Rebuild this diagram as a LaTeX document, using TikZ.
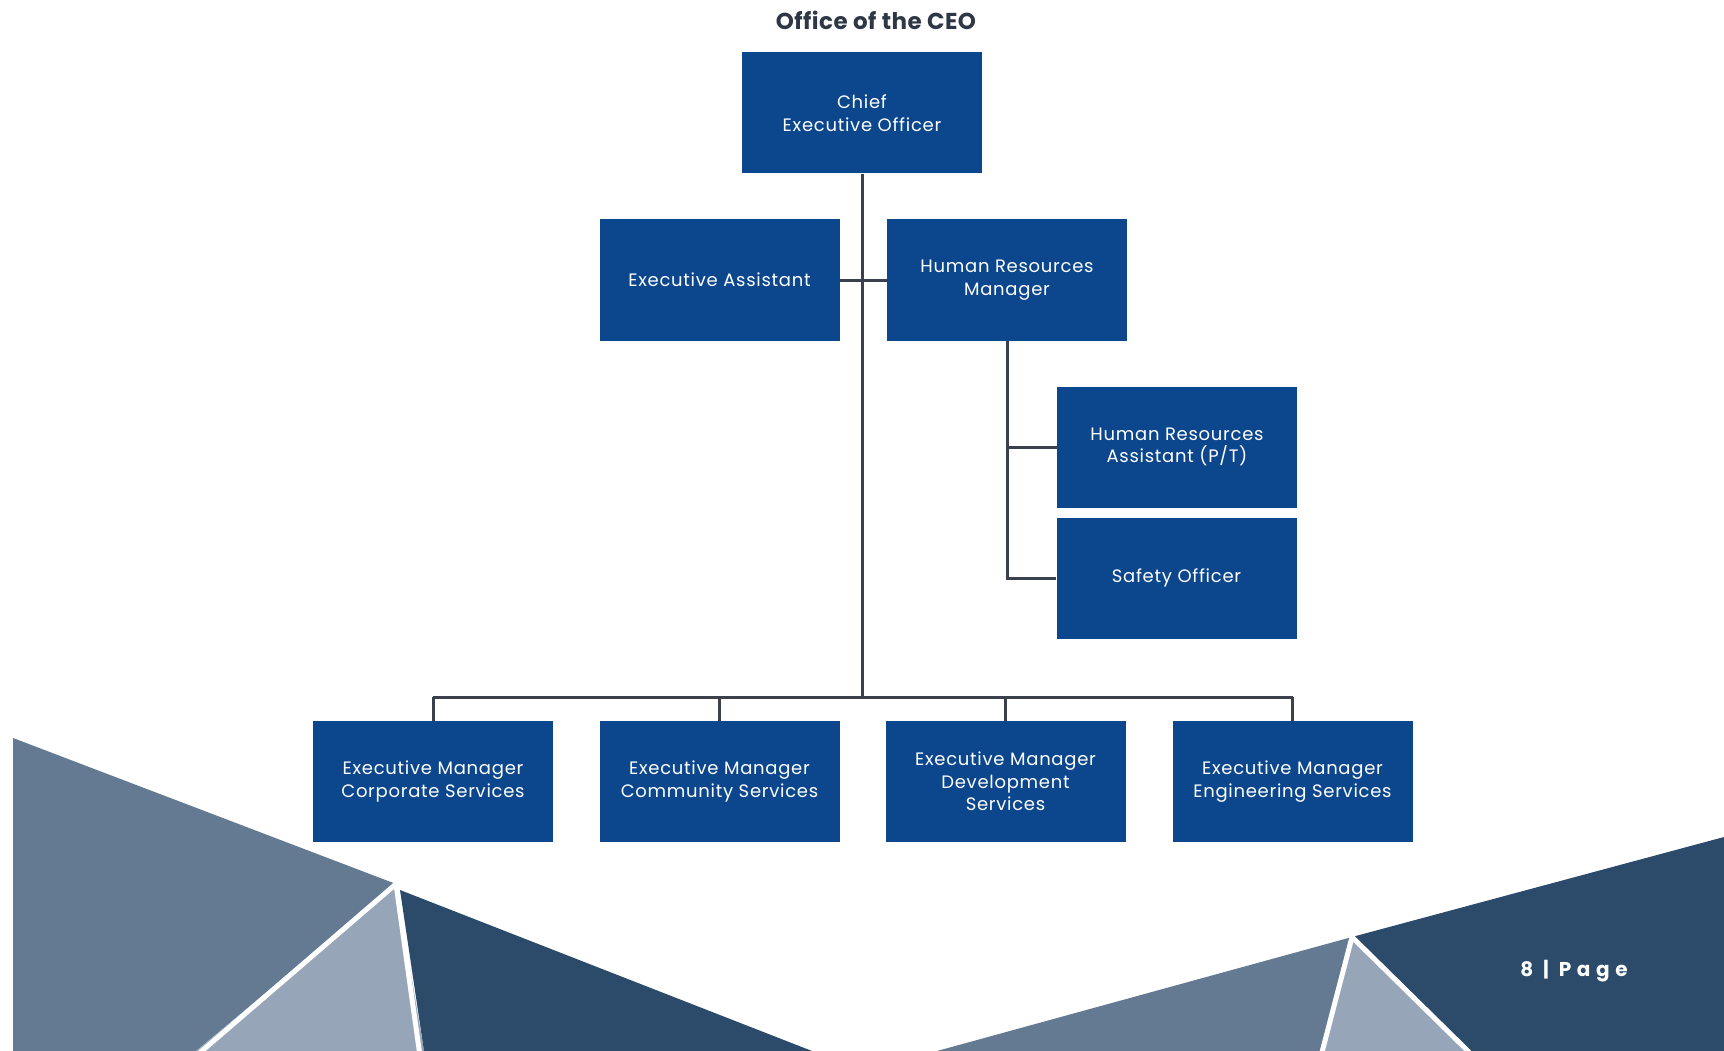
\documentclass[tikz,border=0pt]{standalone}
\usepackage{fontspec}
\setmainfont{Poppins}
\newfontfamily\boxfont[LetterSpace=4]{Poppins}
\newfontfamily\titlefont[LetterSpace=2]{Poppins}
\newfontfamily\pagefont[LetterSpace=28]{Poppins}
\definecolor{boxblue}{RGB}{12,71,142}
\definecolor{linegrey}{RGB}{58,64,76}
\definecolor{titlegrey}{RGB}{45,55,70}
\definecolor{slatemid}{RGB}{99,122,146}
\definecolor{slatelight}{RGB}{150,166,184}
\definecolor{slatedark}{RGB}{44,74,106}
\begin{document}
\begin{tikzpicture}[x=1pt,y=-1pt,
  orgbox/.style={fill=boxblue, draw=none, minimum width=240pt, minimum height=121pt,
    inner sep=0pt, align=center, text=white,
    font=\boxfont\fontsize{18}{22.5}\selectfont},
  conn/.style={draw=linegrey, line width=3pt},
  sep/.style={draw=white, line width=5pt}]
\useasboundingbox (0,0) rectangle (1724,1051);
\fill[white] (0,0) rectangle (1724,1051);
% background shapes, left group
\fill[slatemid] (13,738) -- (396,884) -- (196,1051) -- (13,1051) -- cycle;
\fill[slatelight] (396,884) -- (196,1051) -- (424,1051) -- cycle;
\fill[slatedark] (400,890) -- (812,1051) -- (424,1051) -- cycle;
\draw[sep] (396,884) -- (196,1056);
\draw[sep] (396,884) -- (420,1056);
% background shapes, right group
\fill[slatemid] (1352,937) -- (937,1051) -- (1322,1051) -- cycle;
\fill[slatelight] (1352,937) -- (1322,1051) -- (1470,1051) -- cycle;
\fill[slatedark] (1352,937) -- (1724,837) -- (1724,1051) -- (1470,1051) -- cycle;
\draw[sep] (1352,937) -- (1321,1056);
\draw[sep] (1352,937) -- (1473,1056);
% title
\node[font=\titlefont\fontsize{23}{27}\selectfont\bfseries, text=titlegrey] (title) at (876,20) {Office of the CEO};
% boxes
\node[orgbox] (ceo) at (862,113) {Chief\\Executive Officer};
\node[orgbox] (ea) at (719.5,280) {Executive Assistant};
\node[orgbox] (hrm) at (1007,280) {Human Resources\\Manager};
\node[orgbox] (hra) at (1177,447) {Human Resources\\Assistant (P/T)};
\node[orgbox] (so) at (1176.5,578) {Safety Officer};
\node[orgbox] (ecs) at (433,781.5) {Executive Manager\\Corporate Services};
\node[orgbox] (ecom) at (719.5,781.5) {Executive Manager\\Community Services};
\node[orgbox] (eds) at (1005.5,781.5) {Executive Manager\\Development\\Services};
\node[orgbox] (ees) at (1292.5,781.5) {Executive Manager\\Engineering Services};
\coordinate (bus) at (862,697);
% connectors
\draw[conn] (ceo.south) -- (ceo.south |- bus);
\draw[conn] (ea.east) -- (hrm.west);
\draw[conn] (hrm.south) -- (hrm.south |- so.west) -- (so.west);
\draw[conn] (hrm.south |- hra.west) -- (hra.west);
\draw[conn] (ecs.north |- bus) -- (ees.north |- bus);
\draw[conn] (ecs.north) -- (ecs.north |- bus);
\draw[conn] (ecom.north) -- (ecom.north |- bus);
\draw[conn] (eds.north) -- (eds.north |- bus);
\draw[conn] (ees.north) -- (ees.north |- bus);
% page number
\node[font=\pagefont\fontsize{20}{24}\selectfont\bfseries, text=white] (page) at (1574,971) {8 | Page};
\end{tikzpicture}
\end{document}
